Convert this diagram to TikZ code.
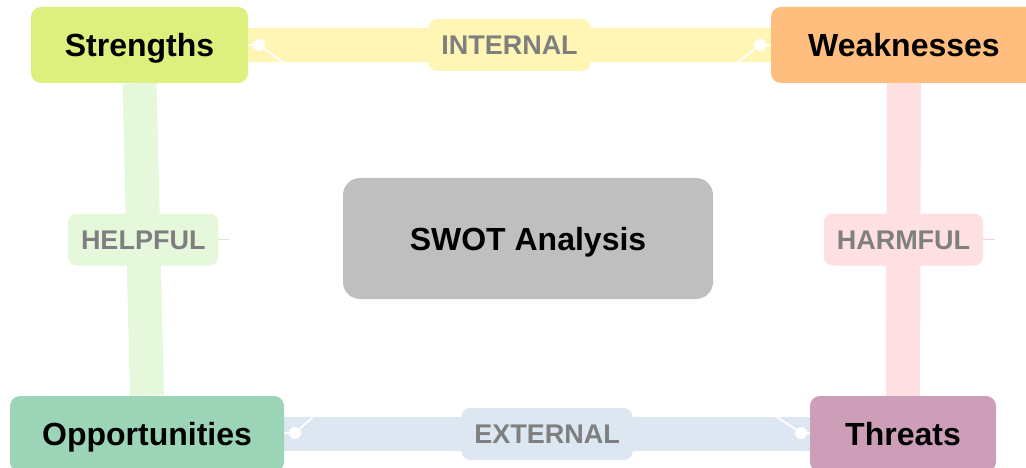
\documentclass[tikz,border=0pt]{standalone}
\usepackage{fontspec}
\setmainfont{Liberation Sans}
\usetikzlibrary{backgrounds,calc}
\definecolor{sfill}{HTML}{DDEF7D}
\definecolor{wfill}{HTML}{FFBE7E}
\definecolor{ofill}{HTML}{9CD4B7}
\definecolor{tfill}{HTML}{CC9EB8}
\definecolor{cfill}{HTML}{BFBFBF}
\definecolor{internal}{HTML}{FFF5B5}
\definecolor{external}{HTML}{DCE7F2}
\definecolor{helpful}{HTML}{E5F8DC}
\definecolor{harmful}{HTML}{FFE0E2}
\definecolor{stubH}{HTML}{D2EFC4}
\definecolor{stubR}{HTML}{FFCCD0}
\definecolor{tagtext}{HTML}{7F7F7F}
\begin{document}
\begin{tikzpicture}[x=1pt,y=-1pt,
  box/.style={rounded corners=10pt, minimum height=76pt, inner sep=0pt,
    text height=23pt, text depth=0pt,
    font=\fontsize{32}{38}\selectfont\bfseries, text=black},
  tag/.style={rounded corners=9pt, minimum height=52pt, inner xsep=13pt, inner ysep=0pt,
    outer sep=0pt, text height=19.3pt, text depth=0pt,
    font=\fontsize{27}{32}\selectfont\bfseries, text=tagtext},
  band/.style={line width=34pt},
  knob/.style={circle, fill=white, inner sep=0pt, minimum size=12pt},
  tail/.style={draw=white, line width=1.8pt},
  stub/.style={line width=1.2pt}]
\clip (0,0) rectangle (1026,468);

% the four quadrant boxes and the centre box
\node[box, fill=sfill, minimum width=217pt] (S) at (139.5,45) {Strengths};
\node[box, fill=wfill, minimum width=266pt] (W) at (904,45) {Weaknesses};
\node[box, fill=ofill, minimum width=274pt] (O) at (147,434) {Opportunities};
\node[box, fill=tfill, minimum width=186pt] (T) at (903,434) {Threats};
\node[box, fill=cfill, minimum width=370pt, minimum height=121pt, rounded corners=17pt] (C) at (528,238.5) {SWOT Analysis};

% wide bands joining the boxes, with their tags
\begin{scope}[on background layer]
\draw[band, draw=internal] (S.east) -- (W.west)
  node[tag, fill=internal, midway] (tI) {INTERNAL};
\draw[band, draw=external] (O.east) -- (T.west)
  node[tag, fill=external, midway] (tE) {EXTERNAL};
\draw[band, draw=helpful] (S.south) -- (O.north)
  node[tag, fill=helpful, midway] (tH) {HELPFUL};
\draw[band, draw=harmful] (W.south) -- (T.north)
  node[tag, fill=harmful, midway] (tR) {HARMFUL};
\end{scope}

% short stubs to the right of the vertical tags
\coordinate (eH) at ($(tH.east)+(11,0)$);
\coordinate (eR) at ($(tR.east)+(12,0)$);
\draw[stub, draw=stubH] (tH.east) -- (eH);
\draw[stub, draw=stubR] (tR.east) -- (eR);

% knobs and tails at the ends of the horizontal bands
\coordinate (aSI) at (283,62);
\coordinate (aWI) at (738,62);
\coordinate (aOE) at (313,417);
\coordinate (aTE) at (777,417);
\node[knob] (kSI) at (259,45) {};
\node[knob] (kWI) at (760,45) {};
\node[knob] (kOE) at (295,433) {};
\node[knob] (kTE) at (801,433) {};
\draw[tail] (S.east) -- (kSI) -- (aSI);
\draw[tail] (W.west) -- (kWI) -- (aWI);
\draw[tail] (O.east |- kOE) -- (kOE) -- (aOE);
\draw[tail] (T.west |- kTE) -- (kTE) -- (aTE);
\end{tikzpicture}
\end{document}
